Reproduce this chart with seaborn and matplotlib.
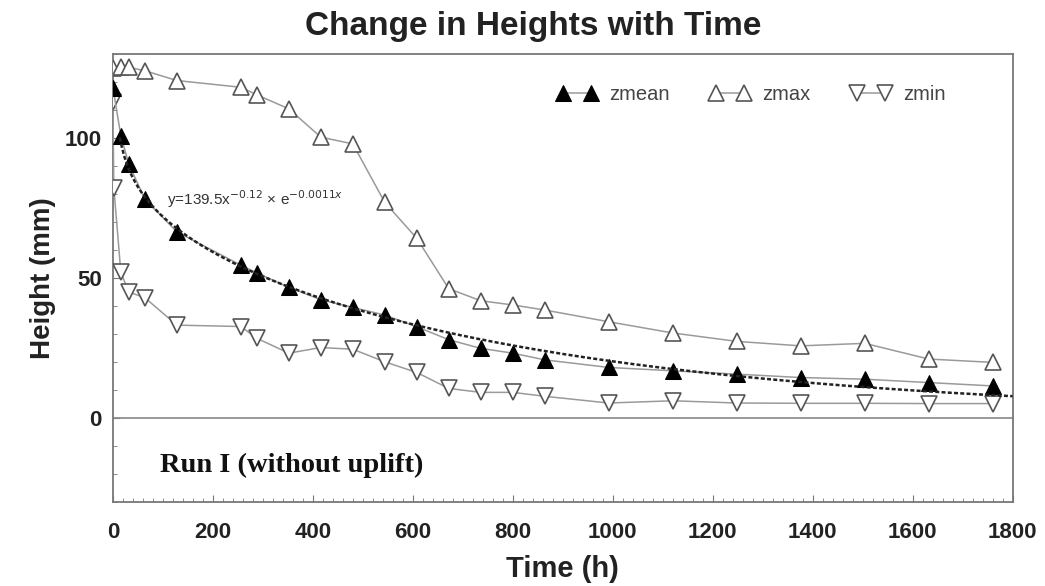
"""
Change in Heights with Time - Run I (without uplift)
Heights zmean / zmax / zmin over time plus fitted curve for zmean
"""
import numpy as np
import pandas as pd
import matplotlib
matplotlib.use('Agg')
import matplotlib.pyplot as plt
from matplotlib.ticker import MultipleLocator
import seaborn as sns

# Time (h) of each survey
time_mean = [0, 16, 32, 64, 128, 256, 288, 352, 416, 480, 544, 608, 672, 736,
             800, 864, 992, 1120, 1248, 1376, 1504, 1632, 1760]
time_max = [0, 16, 32, 64, 128, 256, 288, 352, 416, 480, 544, 608, 672, 736,
            800, 864, 992, 1120, 1248, 1376, 1504, 1632, 1760]
time_min = [0, 2, 16, 32, 64, 128, 256, 288, 352, 416, 480, 544, 608, 672,
            736, 800, 864, 992, 1120, 1248, 1376, 1504, 1632, 1760]

# Heights (mm)
zmean = [118, 100.8, 90.6, 78.2, 66.5, 54.6, 51.8, 46.7, 42.3, 39.5, 36.8,
         32.6, 28.0, 24.9, 23.2, 20.8, 18.1, 16.9, 15.7, 14.5, 13.9, 12.7, 11.5]
zmax = [124.8, 125.2, 125.2, 124.0, 120.5, 118.1, 115.4, 110.4, 100.3, 97.9,
        77.0, 64.2, 46.2, 41.9, 40.4, 38.6, 34.4, 30.4, 27.4, 25.8, 26.7,
        21.1, 19.9]
zmin = [113, 82, 52, 45, 43, 33.2, 32.7, 28.5, 23.2, 25.2, 24.6, 20.1, 16.3,
        10.6, 9.2, 9.2, 7.8, 5.4, 6.2, 5.4, 5.3, 5.3, 5.2, 5.2]

# Fitted curve for zmean: y = a * x^b * e^(c*x)
fit_a, fit_b, fit_c = 139.5, -0.12, -0.0011
fit_start, fit_end = 14, 1800

sns.set_style('ticks')
plt.rcParams['font.family'] = ['Liberation Sans', 'DejaVu Sans']

fig, ax = plt.subplots(figsize=(10.45, 5.86), dpi=100)

line_gray = '#9a9a9a'
edge_gray = '#555555'

df_mean = pd.DataFrame({'t': time_mean, 'z': zmean})
df_max = pd.DataFrame({'t': time_max, 'z': zmax})
df_min = pd.DataFrame({'t': time_min, 'z': zmin})

sns.lineplot(data=df_mean, x='t', y='z', ax=ax, color=line_gray, lw=1.1,
             marker='^', markersize=11.5, markerfacecolor='black',
             markeredgecolor='black', label='zmean', zorder=4)
sns.lineplot(data=df_max, x='t', y='z', ax=ax, color=line_gray, lw=1.1,
             marker='^', markersize=11.5, markerfacecolor='white',
             markeredgecolor=edge_gray, markeredgewidth=1.2, label='zmax',
             zorder=3)
sns.lineplot(data=df_min, x='t', y='z', ax=ax, color=line_gray, lw=1.1,
             marker='v', markersize=11.5, markerfacecolor='white',
             markeredgecolor=edge_gray, markeredgewidth=1.2, label='zmin',
             zorder=3)

# curve from the printed equation
xf = np.linspace(fit_start, fit_end, 400)
yf = fit_a * xf ** fit_b * np.exp(fit_c * xf)
ax.plot(xf, yf, color='#222222', lw=1.8, ls=(0, (1.6, 0.9)), zorder=5)

ax.axhline(0, color='#888888', lw=1.2, zorder=1)

ax.set_xlim(0, 1800)
ax.set_ylim(-30, 130)
ax.xaxis.set_major_locator(MultipleLocator(200))
ax.xaxis.set_minor_locator(MultipleLocator(20))
ax.set_yticks([0, 50, 100])
ax.yaxis.set_minor_locator(MultipleLocator(10))
ax.tick_params(which='both', direction='in', colors='#777777',
               labelcolor='#222222')
ax.tick_params(which='major', length=5, labelsize=16)
ax.tick_params(axis='x', which='major', pad=14)
ax.tick_params(axis='y', which='major', pad=8)
ax.tick_params(which='minor', length=3)
for lab in ax.get_xticklabels() + ax.get_yticklabels():
    lab.set_fontweight('bold')

for sp in ax.spines.values():
    sp.set_color('#777777')
    sp.set_linewidth(1.3)

ax.set_xlabel('Time (h)', fontsize=21, fontweight='bold', color='#222222',
              labelpad=9)
ax.set_ylabel('Height (mm)', fontsize=20, fontweight='bold', color='#222222',
              labelpad=6)
fig.suptitle('Change in Heights with Time', fontsize=24, fontweight='bold',
             color='#222222', x=0.51, y=0.982)

ax.text(108, 78, r'y=139.5x$^{-0.12}$ × e$^{-0.0011x}$', fontsize=11,
        color='#333333', va='center')
ax.text(94, -17, 'Run I (without uplift)', fontsize=20.5, fontweight='bold',
        family='Liberation Serif', color='#111111', va='center')

ax.legend(loc='upper right', bbox_to_anchor=(0.946, 0.972), ncol=3,
          frameon=False, numpoints=2, handlelength=2.0, columnspacing=2.0,
          handletextpad=0.6, fontsize=14.5, markerscale=0.95,
          labelcolor='#444444')

plt.subplots_adjust(left=0.108, right=0.969, top=0.908, bottom=0.143)
plt.savefig('out.png', dpi=100)
plt.close()
